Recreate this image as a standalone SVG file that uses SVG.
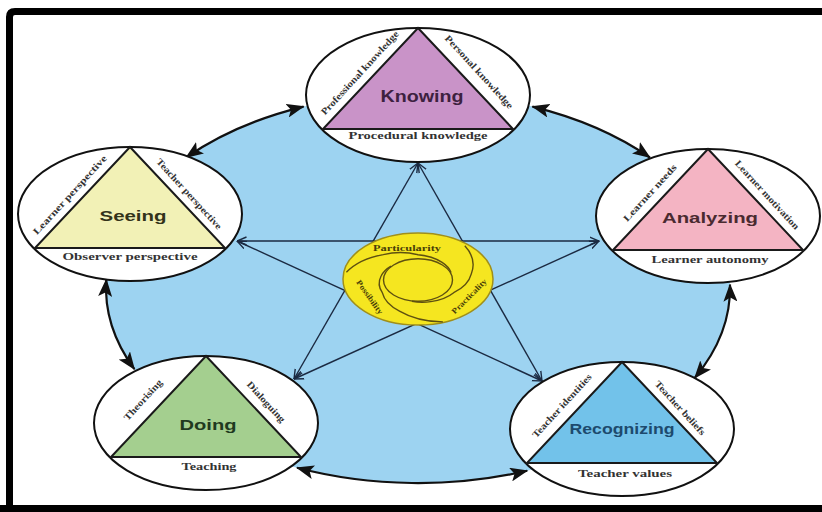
<svg xmlns="http://www.w3.org/2000/svg" width="822" height="512" viewBox="0 0 822 512">
<style>
.o{fill:#fff;stroke:#111;stroke-width:2}
.tri{stroke:#1a1a1a;stroke-width:2;stroke-linejoin:miter}
.title{font-family:"Liberation Sans",Arial,sans-serif;font-weight:bold;text-anchor:middle}
.lab{font-family:"Liberation Serif","Times New Roman",serif;font-weight:bold;font-size:9.5px;fill:#333;text-anchor:middle}
.cl{font-family:"Liberation Serif","Times New Roman",serif;font-weight:bold;font-size:8px;fill:#4a3f08;text-anchor:middle}
.arc{fill:none;stroke:#111;stroke-width:2.2;marker-start:url(#ah);marker-end:url(#ah)}
.star{fill:none;stroke:#1b2a42;stroke-width:1.4;marker-start:url(#oa);marker-end:url(#oa)}
.sw{fill:none;stroke:#5e5010;stroke-width:1.4}
</style>
<defs>
<marker id="ah" viewBox="0 0 18 14" refX="17" refY="7" markerWidth="18" markerHeight="14" markerUnits="userSpaceOnUse" orient="auto-start-reverse">
<path d="M0,0 L18,7 L0,14 L4,7 Z" fill="#111"/>
</marker>
<marker id="oa" viewBox="0 0 10 10" refX="9.5" refY="5" markerWidth="10" markerHeight="10" markerUnits="userSpaceOnUse" orient="auto-start-reverse">
<path d="M0,1 L9.5,5 L0,9" fill="none" stroke="#1b2a42" stroke-width="1.4"/>
</marker>
</defs>
<rect x="0" y="0" width="822" height="512" fill="#fff"/>
<path d="M9.5,505 V17 Q9.5,11.5 15,11.5 H822" fill="none" stroke="#000" stroke-width="7"/>
<rect x="0" y="505" width="822" height="7" fill="#000"/>
<ellipse id="bg" cx="418" cy="288" rx="312" ry="195" fill="#9dd3f1"/>
<g id="connectors">
<path class="star" d="M418,163 L294,379"/>
<path class="star" d="M418,163 L542,381"/>
<path class="star" d="M237,241 L599,241"/>
<path class="star" d="M237,241 L542,381"/>
<path class="star" d="M599,241 L294,379"/>
<path class="arc" d="M186.1,157.5 A312,195 0 0 1 303.6,106.6"/>
<path class="arc" d="M532.4,106.6 A312,195 0 0 1 649.9,157.5"/>
<path class="arc" d="M730,284.6 A312,195 0 0 1 694.7,378"/>
<path class="arc" d="M527.2,470.7 A312,195 0 0 1 297,467.8"/>
<path class="arc" d="M134.4,369.2 A312,195 0 0 1 106.3,279.5"/>
</g>
<g id="center">
<ellipse cx="418" cy="279" rx="75" ry="46" fill="#f5e620" stroke="#a08f1a" stroke-width="1.5"/>
<ellipse cx="418" cy="280" rx="34.5" ry="21.2" fill="none" stroke="#5e5010" stroke-width="1.4"/>
<path class="sw" d="M346.4,272.3 A63.4,38.9 0 0 1 383.3,254.6 A47.6,29.2 0 0 1 418,254.7 A39.4,24.2 0 0 1 442.1,262.4 A36.4,22.3 0 0 1 451.1,272.6"/>
<path class="sw" d="M464.8,245.8 A63.4,38.9 0 0 1 471.2,274.2 A47.6,29.2 0 0 1 453.7,292.7 A39.4,24.2 0 0 1 430.8,301.6 A36.4,22.3 0 0 1 411.9,301.3"/>
<path class="sw" d="M442.9,321.9 A63.4,38.9 0 0 1 399.5,311.1 A47.6,29.2 0 0 1 382.3,292.7 A39.4,24.2 0 0 1 381.1,276 A36.4,22.3 0 0 1 391,266.1"/>
<text class="cl" x="407" y="251" textLength="68" lengthAdjust="spacingAndGlyphs">Particularity</text>
<text class="cl" x="370" y="297" dy="3" transform="rotate(55 370 297)" textLength="40" lengthAdjust="spacingAndGlyphs">Possibility</text>
<text class="cl" x="469" y="296" dy="3" transform="rotate(-45 469 296)" textLength="46" lengthAdjust="spacingAndGlyphs">Practicality</text>
</g>
<g id="knowing">
<ellipse class="o" cx="418" cy="95" rx="112" ry="67"/>
<path class="tri" d="M418,28 L513,129 L323,129 Z" fill="#c993c8"/>
<text class="title" x="422" y="102" font-size="16" fill="#3d2140" textLength="83" lengthAdjust="spacingAndGlyphs">Knowing</text>
<text class="lab" x="418" y="139" textLength="139" lengthAdjust="spacingAndGlyphs">Procedural knowledge</text>
<text class="lab" x="360" y="73" dy="3" transform="rotate(-47.5 360 73)" textLength="110" lengthAdjust="spacingAndGlyphs">Professional knowledge</text>
<text class="lab" x="479" y="72" dy="3" transform="rotate(47.5 479 72)" textLength="96" lengthAdjust="spacingAndGlyphs">Personal knowledge</text>
</g>
<g id="seeing">
<ellipse class="o" cx="130" cy="214" rx="112" ry="67"/>
<path class="tri" d="M130,147 L225,248 L35,248 Z" fill="#f2f1b6"/>
<text class="title" x="133" y="221" font-size="15" fill="#33331a" textLength="67" lengthAdjust="spacingAndGlyphs">Seeing</text>
<text class="lab" x="130" y="260" textLength="135" lengthAdjust="spacingAndGlyphs">Observer perspective</text>
<text class="lab" x="70" y="195" dy="3" transform="rotate(-47.5 70 195)" textLength="104" lengthAdjust="spacingAndGlyphs">Learner perspective</text>
<text class="lab" x="189" y="194" dy="3" transform="rotate(47.5 189 194)" textLength="92" lengthAdjust="spacingAndGlyphs">Teacher perspective</text>
</g>
<g id="analyzing">
<ellipse class="o" cx="708" cy="216" rx="112" ry="67"/>
<path class="tri" d="M708,149 L803,250 L613,250 Z" fill="#f4b4c3"/>
<text class="title" x="710" y="223" font-size="15" fill="#4a2a30" textLength="96" lengthAdjust="spacingAndGlyphs">Analyzing</text>
<text class="lab" x="710" y="263" textLength="117" lengthAdjust="spacingAndGlyphs">Learner autonomy</text>
<text class="lab" x="650" y="193" dy="3" transform="rotate(-47.5 650 193)" textLength="74" lengthAdjust="spacingAndGlyphs">Learner needs</text>
<text class="lab" x="767" y="195" dy="3" transform="rotate(47.5 767 195)" textLength="90" lengthAdjust="spacingAndGlyphs">Learner motivation</text>
</g>
<g id="doing">
<ellipse class="o" cx="206" cy="423" rx="112" ry="67"/>
<path class="tri" d="M206,356 L301,457 L111,457 Z" fill="#a4cf8f"/>
<text class="title" x="208" y="430" font-size="15" fill="#1f3a1f" textLength="57" lengthAdjust="spacingAndGlyphs">Doing</text>
<text class="lab" x="209" y="470" textLength="55" lengthAdjust="spacingAndGlyphs">Teaching</text>
<text class="lab" x="143" y="400" dy="3" transform="rotate(-47.5 143 400)" textLength="52" lengthAdjust="spacingAndGlyphs">Theorising</text>
<text class="lab" x="266" y="402" dy="3" transform="rotate(47.5 266 402)" textLength="52" lengthAdjust="spacingAndGlyphs">Dialoguing</text>
</g>
<g id="recognizing">
<ellipse class="o" cx="622" cy="429" rx="112" ry="67"/>
<path class="tri" d="M622,362 L717,463 L527,463 Z" fill="#72c2ea"/>
<text class="title" x="622" y="434" font-size="14" fill="#1d4a6e" textLength="105" lengthAdjust="spacingAndGlyphs">Recognizing</text>
<text class="lab" x="625" y="477" textLength="94" lengthAdjust="spacingAndGlyphs">Teacher values</text>
<text class="lab" x="562" y="406" dy="3" transform="rotate(-47.5 562 406)" textLength="83" lengthAdjust="spacingAndGlyphs">Teacher identities</text>
<text class="lab" x="680" y="408" dy="3" transform="rotate(47.5 680 408)" textLength="70" lengthAdjust="spacingAndGlyphs">Teacher beliefs</text>
</g>
</svg>
